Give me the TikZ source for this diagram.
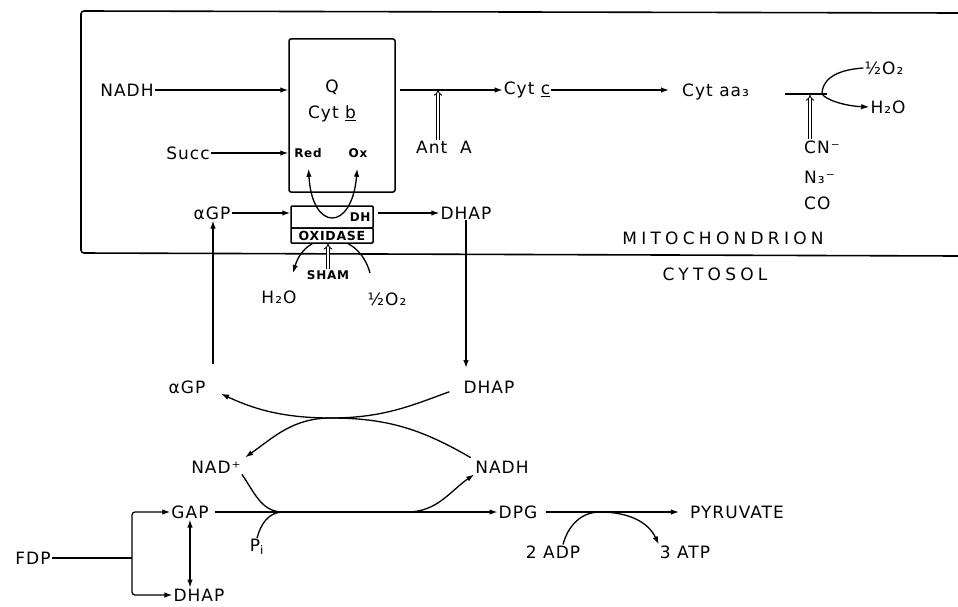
\documentclass[tikz,border=0pt]{standalone}
\usepackage{fontspec}
\setmainfont{DejaVu Sans}[LetterSpace=6]
\newfontfamily\widefont{DejaVu Sans}[LetterSpace=25]
\usepackage{tikz}
\usetikzlibrary{arrows.meta, positioning, calc}
\tikzset{
  lab/.style={inner sep=1pt, font=\fontsize{17}{19}\selectfont},
  sblab/.style={inner sep=1pt, font=\fontsize{12}{13}\selectfont\bfseries},
  widelab/.style={inner sep=1pt, font=\widefont\fontsize{17}{19}\selectfont},
  cbox/.style={draw, line width=1.5pt, rounded corners=2pt, fill=white},
  arr/.style={-{Latex[length=8pt,width=5.5pt]}, line width=1.3pt},
  darr/.style={{Latex[length=8pt,width=5.5pt]}-{Latex[length=8pt,width=5.5pt]}, line width=1.3pt},
  ln/.style={line width=1.3pt},
  inh/.style={double, double distance=2pt, line width=0.9pt, -{Implies}},
}

\begin{document}
\begin{tikzpicture}[x=1pt, y=-1pt]
  \useasboundingbox (0,0) rectangle (958,607);

  % mitochondrion
  \draw[line width=1.6pt, rounded corners=3pt] (958,13) -- (81,11) -- (81,253) -- (958,256);
  \node[widelab] (mito) at (723,238) {MITOCHONDRION};
  \node[widelab] (cyto) at (715,274) {CYTOSOL};

  \node[cbox, minimum width=106pt, minimum height=153pt] (cytb) at (342,115.5) {};
  \node[lab] (q) at (332,87) {Q};
  \node[lab] (cytbl) at (332,114) {Cyt \underline{b}};
  \node[sblab] (red) at (308,153) {Red};
  \node[sblab] (ox) at (358,153) {Ox};
  \node[lab] (nadhm) at (127,90) {NADH};
  \node[lab] (succ) at (188,153) {Succ};
  \node[lab] (cytc) at (527,90) {Cyt \underline{c}};
  \node[lab, anchor=west] (cytaa) at (681,92) {Cyt aa₃};
  \node[lab] (anta) at (444,147) {Ant~~A};
  \coordinate (antpt) at (438,90);
  \coordinate (barl) at (785,94);
  \coordinate (barr) at (827,94);
  \coordinate (term) at (822,94);
  \coordinate (cnpt) at (810,95);
  \node[lab, anchor=west] (cn) at (803,147) {CN⁻};
  \node[lab, anchor=west] (n3) at (803,177) {N₃⁻};
  \node[lab, anchor=west] (co) at (803,203) {CO};
  \node[lab] (o2m) at (884,68) {½O₂};
  \node[lab] (h2om) at (888,107) {H₂O};

  \draw[arr] (nadhm) -- (nadhm -| cytb.west);
  \draw[arr] (succ) -- (succ -| cytb.west);
  \draw[arr, shorten <=4pt] (cytb.east |- cytc) -- (cytc);
  \draw[arr, shorten >=12pt] (cytc) -- (cytc -| cytaa.west);
  \draw[inh] (antpt |- anta.north) -- (antpt);
  \draw[ln] (barl) -- (barr);
  \draw[inh] (cnpt |- cn.north) -- (cnpt);
  \draw[arr] (o2m.west) .. controls (832,70) and (822,82) .. (term)
    .. controls (826,100) and (845,106) .. (h2om.west);

  % glycerophosphate oxidase
  \node[lab] (agpm) at (212,213) {αGP};
  \node[lab] (dhapm) at (466,213) {DHAP};
  \coordinate (archr) at (370,273);
  \coordinate (archl) at (293,273);
  \draw[arr] (archr) .. controls (358,229) and (306,229) .. (archl);
  \node[cbox, rounded corners=1pt, minimum width=82pt, minimum height=22pt] (dh) at (332,217) {};
  \node[sblab, anchor=east, inner sep=3pt] (dhl) at (dh.east) {DH};
  \node[cbox, rounded corners=1pt, minimum width=82pt, minimum height=15pt, inner sep=0pt,
        font=\fontsize{12.5}{13}\selectfont\bfseries] (oxid) at (332,235.5) {OXIDASE};
  \draw[darr, shorten <=10pt, shorten >=10pt] (red.south) .. controls (312,232) and (352,232) .. (ox.south);
  \node[sblab] (sham) at (328,275) {SHAM};
  \draw[inh] (sham.north) -- (sham.north |- oxid.south);
  \node[lab] (h2oc) at (279,297) {H₂O};
  \node[lab] (o2c) at (387,299) {½O₂};
  \draw[arr] (agpm) -- (agpm -| dh.west);
  \draw[arr, shorten <=4pt] (dh.east |- dhapm) -- (dhapm);

  % cytosol
  \node[lab] (agpc) at (187,387) {αGP};
  \node[lab] (dhapc) at (489,387) {DHAP};
  \coordinate (agpup) at (213,364);
  \coordinate (dhapdn) at (466,368);
  \draw[arr] (agpup) -- (agpup |- agpm.south);
  \draw[arr] (dhapm.south) -- (dhapdn);

  \node[lab] (nad) at (216,467) {NAD⁺};
  \node[lab] (nadhc) at (502,467) {NADH};
  \coordinate (mid) at (331,418);
  \draw[arr, shorten <=14pt, shorten >=16pt] (dhapc.west) to[out=200,in=0] (mid) to[out=180,in=-25] (agpc.east);
  \draw[arr, shorten <=4pt, shorten >=4pt] (nadhc.north west) to[out=150,in=0] (mid) to[out=180,in=35] (nad.north east);

  \node[lab] (gap) at (190,512) {GAP};
  \node[lab] (dpg) at (518,512) {DPG};
  \node[lab] (pi) at (257,547) {P\textsubscript{i}};
  \coordinate (jl) at (283,512);
  \coordinate (jr) at (407,512);
  \draw[arr, shorten <=5pt] (gap) -- (dpg);
  \draw[ln] (nad.south east) to[out=-55,in=180] (jl);
  \draw[ln] (pi.north) to[out=75,in=180] (jl);
  \draw[arr] (jr) to[out=0,in=-145] (nadhc.south west);

  \node[lab] (fdp) at (33,558) {FDP};
  \node[lab] (dhapb) at (199,595) {DHAP};
  \coordinate (br) at (132,558);
  \draw[ln] (fdp) -- (br);
  \draw[arr, rounded corners=3pt] (br) |- (gap);
  \draw[arr, rounded corners=3pt] (br) |- (dhapb);
  \draw[darr] (gap.south) -- (gap.south |- dhapb.north);

  \node[lab] (pyr) at (737,512) {PYRUVATE};
  \node[lab] (adp) at (553,552) {2 ADP};
  \node[lab] (atp) at (685,552) {3 ATP};
  \coordinate (ja) at (600,512);
  \draw[arr, shorten <=8pt, shorten >=10pt] (dpg) -- (pyr);
  \draw[arr] ([xshift=10pt]adp.north) to[out=75,in=180] (ja) to[out=0,in=115] (atp.north west);
\end{tikzpicture}
\end{document}
